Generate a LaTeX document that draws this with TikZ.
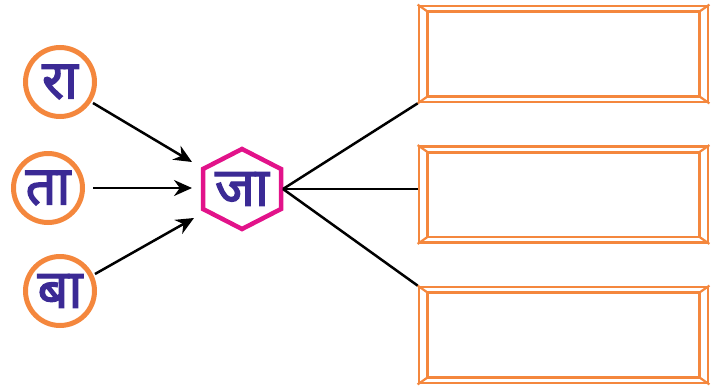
\documentclass[tikz,border=0pt]{standalone}
\usepackage{fontspec}
\newfontfamily\devfont[Script=Devanagari, FakeBold=2.5]{Noto Sans}
\usetikzlibrary{positioning,arrows.meta,calc}
\definecolor{ringorange}{HTML}{F4873D}
\definecolor{hexpink}{HTML}{E2138A}
\definecolor{letterblue}{HTML}{3B2A95}
\tikzset{
  letter/.style={font=\devfont\fontsize{54}{54}\selectfont, text=letterblue},
  ring/.style={letter, circle, draw=ringorange, line width=5pt, minimum size=69pt, inner sep=0pt},
  feed/.style={line width=2.5pt, -{Stealth[length=18pt,width=16pt]}},
  spoke/.style={line width=2.5pt},
  slot/.style={draw=ringorange, line width=2.8pt, minimum width=289pt, minimum height=96pt, inner sep=0pt}
}
\begin{document}
\begin{tikzpicture}[x=1pt,y=-1pt]
  \useasboundingbox (0,0) rectangle (727,391);
  \def\hx{39} % half width of the hexagon
  \def\hy{40} % half height of the hexagon
  \def\dx{10} % frame inset, horizontal
  \def\dy{7} % frame inset, vertical
  % the three syllables on the left
  \node[ring] (ra) at (60,82) {रा};
  \node[ring] (ta) at (48,188) {ता};
  \node[ring] (ba) at (60,291) {बा};
  % the hexagon in the middle
  \node[letter, inner sep=0pt] (ja) at (242,189) {जा};
  \draw[hexpink, line width=4.5pt, line join=miter]
    ($(ja)+(0,-\hy)$) -- ($(ja)+(\hx,-\hy/2)$) -- ($(ja)+(\hx,\hy/2)$) --
    ($(ja)+(0,\hy)$) -- ($(ja)+(-\hx,\hy/2)$) -- ($(ja)+(-\hx,-\hy/2)$) -- cycle;
  \coordinate (jaE) at ($(ja)+(41,0)$);
  \coordinate (inA) at (192,162);
  \coordinate (inB) at (192,188);
  \coordinate (inC) at (194,218);
  \draw[feed] (ra) ++(33,21) -- (inA);
  \draw[feed] (ta) ++(45,0) -- (inB);
  \draw[feed] (ba) ++(35,-17) -- (inC);
  % the three empty frames
  \foreach \y [count=\k] in {54,194.5,335} {
    \node[slot] (box\k) at (563.5,\y) {};
    \draw[ringorange, line width=2.8pt]
      ($(box\k.north west)+(\dx,\dy)$) rectangle ($(box\k.south east)+(-\dx,-\dy)$);
    \draw[ringorange, line width=2.2pt]
      (box\k.north west) -- ++(\dx,\dy)
      (box\k.north east) -- ++(-\dx,\dy)
      (box\k.south west) -- ++(\dx,-\dy)
      (box\k.south east) -- ++(-\dx,-\dy);
  }
  \draw[spoke] (jaE) -- (box1.south west);
  \draw[spoke] (jaE) -- (jaE -| box2.west);
  \draw[spoke] (jaE) -- (box3.north west);
\end{tikzpicture}
\end{document}
